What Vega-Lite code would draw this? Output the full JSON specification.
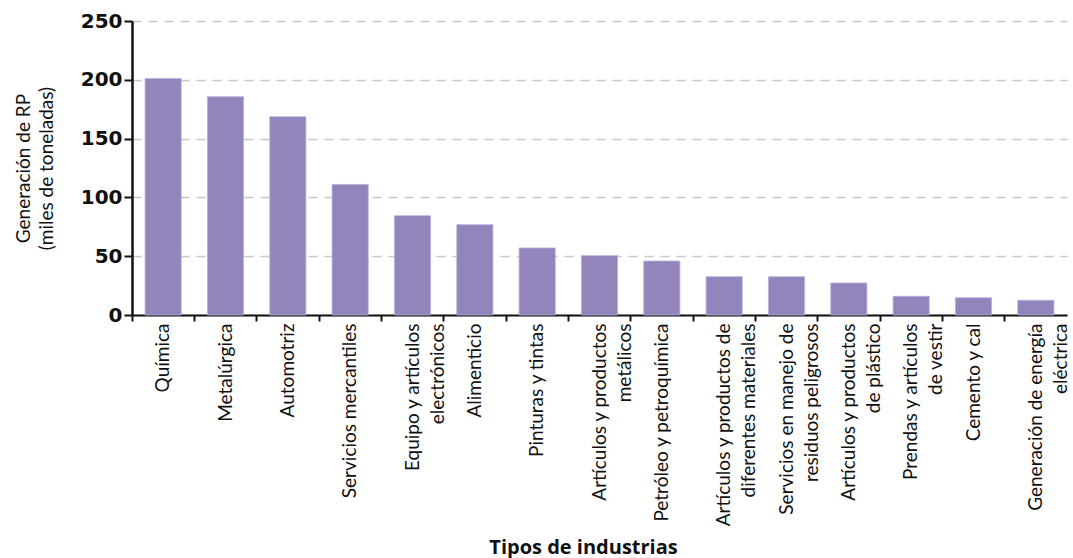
{
  "$schema": "https://vega.github.io/schema/vega-lite/v6.json",
  "width": 935,
  "height": 294,
  "autosize": "none",
  "padding": {"left": 132, "top": 21, "right": 6, "bottom": 243},
  "background": "white",
  "data": {
    "values": [
      {"industria": "Química", "valor": 201},
      {"industria": "Metalúrgica", "valor": 185.6},
      {"industria": "Automotriz", "valor": 168.6},
      {"industria": "Servicios mercantiles", "valor": 111},
      {"industria": "Equipo y artículos\nelectrónicos", "valor": 84.5},
      {"industria": "Alimenticio", "valor": 76.8},
      {"industria": "Pinturas y tintas", "valor": 57},
      {"industria": "Artículos y productos\nmetálicos", "valor": 50.4},
      {"industria": "Petróleo y petroquímica", "valor": 45.9},
      {"industria": "Artículos y productos de\ndiferentes materiales", "valor": 32.6},
      {"industria": "Servicios en manejo de\nresiduos peligrosos", "valor": 32.6},
      {"industria": "Artículos y productos\nde plástico", "valor": 27.2},
      {"industria": "Prendas y artículos\nde vestir", "valor": 15.9},
      {"industria": "Cemento y cal", "valor": 14.7},
      {"industria": "Generación de energía\neléctrica", "valor": 12.5}
    ]
  },
  "mark": {"type": "bar", "color": "#9484bc", "stroke": "#b9aede", "strokeWidth": 0.8},
  "encoding": {
    "x": {
      "field": "industria",
      "type": "nominal",
      "sort": null,
      "scale": {"paddingInner": 0.42, "paddingOuter": 0.21},
      "axis": {
        "title": "Tipos de industrias",
        "titleFont": "Open Sans",
        "titleFontSize": 20,
        "titleFontWeight": "bold",
        "titleColor": "#111",
        "titleBaseline": "alphabetic",
        "titleAlign": "center",
        "titleX": 451,
        "titleY": 238,
        "labelExpr": "split(datum.label, '\\n')",
        "labelAngle": -90,
        "labelAlign": "right",
        "labelBaseline": "middle",
        "labelFont": "Lato",
        "labelFontSize": 19,
        "labelLineHeight": 25,
        "labelLimit": 400,
        "labelColor": "#111",
        "labelPadding": 2,
        "bandPosition": -0.36,
        "tickColor": "#111",
        "tickWidth": 2,
        "tickSize": 6,
        "domainColor": "#111",
        "domainWidth": 2
      }
    },
    "y": {
      "field": "valor",
      "type": "quantitative",
      "scale": {"domain": [0, 250]},
      "axis": {
        "title": ["Generación de RP", "(miles de toneladas)"],
        "titleFont": "Lato",
        "titleFontSize": 19,
        "titleFontWeight": "normal",
        "titleColor": "#111",
        "titleLineHeight": 23,
        "titlePadding": 24,
        "values": [0, 50, 100, 150, 200, 250],
        "labelFont": "DejaVu Sans",
        "labelFontWeight": "bold",
        "labelFontSize": 20,
        "labelColor": "#111",
        "labelPadding": 2,
        "tickColor": "#111",
        "tickWidth": 2,
        "tickSize": 8,
        "domainColor": "#111",
        "domainWidth": 2.5,
        "grid": true,
        "gridColor": "#c8c8c8",
        "gridDash": [9, 7],
        "gridWidth": 1.5
      }
    }
  },
  "config": {"view": {"stroke": null}}
}
